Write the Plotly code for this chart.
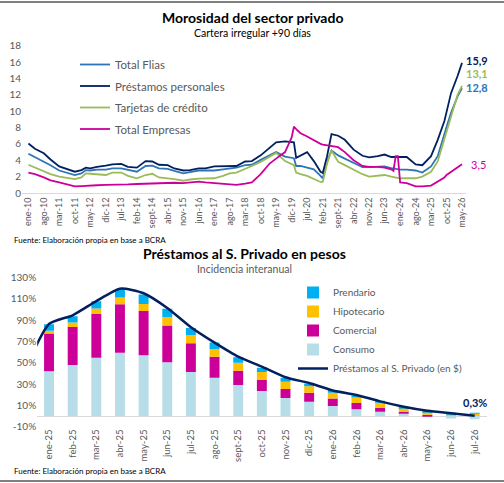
import plotly.graph_objects as go

# ---------- Morosidad del sector privado (cartera irregular +90 dias) ----------
fechas_mora = [
    '2010-01-01', '2010-04-01', '2010-08-01', '2010-11-01', '2011-03-01', '2011-06-01',
    '2011-10-01', '2012-01-01', '2012-03-01', '2012-05-01', '2012-08-01', '2012-12-01',
    '2013-03-01', '2013-07-01', '2013-10-01', '2014-02-01', '2014-06-01', '2014-09-01',
    '2014-12-01', '2015-04-01', '2015-07-01', '2015-11-01', '2016-02-01', '2016-06-01',
    '2016-09-01', '2017-01-01', '2017-05-01', '2017-08-01', '2017-11-01', '2018-03-01',
    '2018-06-01', '2018-10-01', '2019-02-01', '2019-05-01', '2019-09-01', '2019-12-01',
    '2020-01-01', '2020-02-01', '2020-04-01', '2020-07-01', '2020-10-01', '2021-01-01',
    '2021-02-01', '2021-04-01', '2021-06-01', '2021-09-01', '2021-12-01', '2022-04-01',
    '2022-08-01', '2022-11-01', '2023-03-01', '2023-06-01', '2023-09-01', '2023-10-01',
    '2023-11-01', '2023-12-01', '2024-01-01', '2024-04-01', '2024-08-01', '2024-11-01',
    '2025-03-01', '2025-06-01', '2025-09-01', '2025-10-01', '2025-12-01', '2026-03-01',
    '2026-05-01',
]
prestamos_personales = [
    6.05, 5.4, 4.85, 4.1, 3.25, 2.95, 2.6, 2.8, 3.1, 3.0, 3.2, 3.35,
    3.5, 3.55, 3.2, 3.1, 3.9, 3.85, 3.45, 3.4, 3.0, 2.75, 2.8, 3.0,
    3.0, 3.25, 3.3, 3.35, 3.3, 3.85, 3.9, 4.6, 5.5, 6.2, 6.3, 6.2,
    6.2, 4.3, 4.6, 5.0, 3.9, 2.6, 2.45, 4.5, 7.2, 7.0, 6.5, 5.3,
    4.55, 4.35, 4.5, 4.7, 4.4, 4.4, 4.4, 4.4, 4.4, 4.4, 3.5, 3.4,
    4.5, 6.5, 8.8, 10.0, 12.2, 14.3, 15.9,
]
total_flias = [
    4.8, 4.4, 3.85, 3.4, 2.75, 2.5, 2.2, 2.4, 2.8, 2.75, 2.85, 2.85,
    3.0, 3.0, 2.8, 2.6, 3.3, 3.35, 3.0, 2.95, 2.7, 2.4, 2.55, 2.75,
    2.75, 2.75, 2.9, 3.0, 3.1, 3.4, 3.45, 4.05, 4.6, 5.0, 4.45, 4.3,
    4.25, 3.3, 3.3, 3.1, 2.9, 2.1, 1.8, 3.8, 5.2, 4.6, 4.2, 3.65,
    3.15, 3.15, 3.2, 3.25, 3.05, 3.0, 2.95, 2.9, 2.85, 2.85, 2.75, 2.5,
    3.25, 4.5, 7.0, 8.1, 9.8, 11.8, 12.8,
]
tarjetas = [
    3.45, 3.1, 2.6, 2.3, 2.0, 1.9, 1.7, 1.9, 2.4, 2.35, 2.3, 2.2,
    2.5, 2.5, 2.1, 1.8, 2.2, 2.35, 1.9, 1.8, 1.7, 1.5, 1.65, 1.75,
    1.8, 1.8, 2.1, 2.4, 2.5, 2.9, 3.3, 3.8, 4.5, 4.9, 3.9, 3.5,
    3.4, 2.5, 2.3, 2.1, 1.7, 1.35, 1.35, 3.6, 5.2, 3.8, 3.4, 2.85,
    2.3, 2.0, 2.1, 2.2, 2.0, 1.95, 1.9, 1.85, 1.8, 1.8, 1.8, 2.0,
    2.6, 3.85, 6.6, 7.7, 9.6, 12.0, 13.1,
]
total_empresas = [
    2.5, 2.3, 1.9, 1.55, 1.3, 1.05, 0.8, 0.85, 0.9, 0.9, 0.95, 1.0,
    1.0, 1.0, 1.05, 1.1, 1.15, 1.2, 1.25, 1.3, 1.25, 1.2, 1.3, 1.4,
    1.3, 1.2, 1.1, 1.0, 1.0, 1.15, 1.3, 2.3, 3.6, 4.2, 5.0, 6.8,
    8.1, 7.8, 7.3, 6.9, 6.4, 6.0, 5.9, 5.8, 5.7, 5.6, 5.0, 4.0,
    3.3, 3.2, 3.2, 3.1, 2.9, 2.7, 4.5, 4.5, 1.3, 1.2, 0.8, 0.8,
    0.9, 1.35, 1.9, 2.2, 2.6, 3.1, 3.5,
]
ticks_mora = ['ene-10', 'ago-10', 'mar-11', 'oct-11', 'may-12', 'dic-12', 'jul-13', 'feb-14',
              'sept-14', 'abr-15', 'nov-15', 'jun-16', 'ene-17', 'ago-17', 'mar-18', 'oct-18',
              'may-19', 'dic-19', 'jul-20', 'feb-21', 'sept-21', 'abr-22', 'nov-22', 'jun-23',
              'ene-24', 'ago-24', 'mar-25', 'oct-25', 'may-26']
ticks_mora_fechas = ['2010-01-01', '2010-08-01', '2011-03-01', '2011-10-01', '2012-05-01',
                     '2012-12-01', '2013-07-01', '2014-02-01', '2014-09-01', '2015-04-01',
                     '2015-11-01', '2016-06-01', '2017-01-01', '2017-08-01', '2018-03-01',
                     '2018-10-01', '2019-05-01', '2019-12-01', '2020-07-01', '2021-02-01',
                     '2021-09-01', '2022-04-01', '2022-11-01', '2023-06-01', '2024-01-01',
                     '2024-08-01', '2025-03-01', '2025-10-01', '2026-05-01']

# ---------- Prestamos al S. Privado en pesos (incidencia interanual, %) ----------
meses_prest = ['ene-25', 'feb-25', 'mar-25', 'abr-25', 'may-25', 'jun-25', 'jul-25', 'ago-25',
               'sept-25', 'oct-25', 'nov-25', 'dic-25', 'ene-26', 'feb-26', 'mar-26', 'abr-26',
               'may-26', 'jun-26', 'jul-26']
consumo = [42.0, 48.0, 54.9, 59.6, 57.1, 50.6, 41.4, 36.1, 29.1, 23.6, 17.0, 13.5,
           9.5, 6.4, 4.0, 2.3, 0.3, -2.3, -3.0]
comercial = [35.5, 35.7, 41.1, 45.4, 41.7, 34.4, 27.0, 19.7, 13.5, 10.3, 8.5, 8.5,
             6.9, 5.9, 3.9, 1.4, 0.9, 0.0, 0.0]
hipotecario = [2.7, 4.1, 5.0, 6.3, 6.6, 8.0, 7.5, 7.3, 7.4, 7.5, 6.8, 6.0,
               5.6, 5.2, 4.7, 3.8, 2.6, 2.2, 2.3]
prendario = [6.0, 6.0, 6.8, 7.8, 8.8, 7.8, 6.8, 5.9, 5.2, 4.1, 3.8, 2.5,
             2.5, 1.9, 1.2, 0.8, 0.4, 0.3, 0.2]
# serie total: incluye dic-24 como primer punto (queda recortado a la izquierda)
total_prest = [44.0, 86.5, 94.7, 108.0, 119.7, 115.4, 101.6, 83.5, 69.0, 55.8, 46.4, 36.5,
               31.0, 24.0, 19.8, 13.8, 8.8, 5.0, 2.6, 0.3]

FONT = 'Lato'
GRIS = '#595959'
NAVY = '#002060'

fig = go.Figure()

# top chart lines
top_series = [
    ('Total Flias', total_flias, '#2E75B6'),
    ('Préstamos personales', prestamos_personales, NAVY),
    ('Tarjetas de crédito', tarjetas, '#9BBB59'),
    ('Total Empresas', total_empresas, '#CC0099'),
]
for name, vals, color in top_series:
    fig.add_trace(go.Scatter(
        x=fechas_mora, y=vals, mode='lines', name=name,
        line={'color': color, 'width': 1.8},
        xaxis='x', yaxis='y', legend='legend', legendgroup=name,
    ))

# bottom chart bars + line
x_bar = list(range(len(meses_prest)))
x_line = list(range(-1, len(meses_prest)))
bar_series = [
    ('Consumo', consumo, '#B7DEE8', 4),
    ('Comercial', comercial, '#CC0099', 3),
    ('Hipotecario', hipotecario, '#FFC000', 2),
    ('Prendario', prendario, '#00B0F0', 1),
]
for name, vals, color, rank in bar_series:
    fig.add_trace(go.Bar(
        x=x_bar, y=vals, name=name, marker={'color': color, 'line': {'width': 0}},
        xaxis='x2', yaxis='y2', legend='legend2', legendrank=rank,
    ))
fig.add_trace(go.Scatter(
    x=x_line, y=total_prest, mode='lines', name='Préstamos al S. Privado (en $)',
    line={'color': NAVY, 'width': 2.5, 'shape': 'spline', 'smoothing': 0.6},
    xaxis='x2', yaxis='y2', legend='legend2', legendrank=5,
))

# end labels top chart
end_labels = [
    (prestamos_personales, NAVY, 2, True),
    (tarjetas, '#9BBB59', 12, True),
    (total_flias, '#2E75B6', 1, True),
    (total_empresas, '#CC0099', 0, False),
]
annotations = []
for vals, color, ysh, bold in end_labels:
    txt = '{:.1f}'.format(vals[-1]).replace('.', ',')
    annotations.append(dict(
        x=fechas_mora[-1], y=vals[-1], xref='x', yref='y',
        text='<b>' + txt + '</b>' if bold else txt,
        showarrow=False, xanchor='left', xshift=2 if bold else 7, yshift=ysh,
        font={'family': FONT, 'size': 11, 'color': color},
    ))
annotations.append(dict(
    x=x_line[-1], y=total_prest[-1], xref='x2', yref='y2',
    text='<b>' + '{:.1f}'.format(total_prest[-1]).replace('.', ',') + '%</b>',
    showarrow=False, yshift=13, font={'family': FONT, 'size': 11, 'color': NAVY},
))

# titles and sources
texts = [
    ('<b>Morosidad del sector privado</b>', 0.5, 1 - 18 / 483, 14, 'center', '#000000'),
    ('Cartera irregular +90 días', 0.5, 1 - 33 / 483, 10.5, 'center', '#000000'),
    ('Fuente: Elaboración propia en base a BCRA', 12 / 504, 1 - 240 / 483, 8, 'left', '#000000'),
    ('<b>Préstamos al S. Privado en pesos</b>', 0.485, 1 - 254 / 483, 14, 'center', '#000000'),
    ('Incidencia interanual', 0.485, 1 - 269 / 483, 10.5, 'center', GRIS),
    ('Fuente: Elaboración propia en base a BCRA', 12 / 504, 1 - 471 / 483, 8, 'left', '#000000'),
]
for txt, x, y, size, anchor, color in texts:
    annotations.append(dict(
        x=x, y=y, xref='paper', yref='paper', text=txt, showarrow=False,
        xanchor=anchor, yanchor='middle', font={'family': FONT, 'size': size, 'color': color},
    ))

fig.update_layout(
    width=504, height=483,
    margin={'l': 0, 'r': 0, 't': 0, 'b': 0, 'autoexpand': False},
    paper_bgcolor='white', plot_bgcolor='white',
    font={'family': FONT, 'color': GRIS},
    barmode='relative', bargap=0.58,
    showlegend=True,
    xaxis={
        'domain': [22 / 504, 466 / 504], 'anchor': 'y', 'type': 'date',
        'range': ['2009-10-05', '2026-06-25'], 'automargin': False,
        'tickvals': ticks_mora_fechas, 'ticktext': ticks_mora, 'tickangle': -90,
        'tickfont': {'size': 9, 'color': GRIS}, 'showgrid': False,
        'showline': True, 'linecolor': '#D9D9D9', 'ticks': '',
    },
    yaxis={
        'domain': [1 - 193 / 483, 1 - 45.7 / 483], 'anchor': 'x', 'range': [0, 18],
        'automargin': False,
        'dtick': 2, 'tickfont': {'size': 10, 'color': GRIS}, 'showgrid': False,
        'zeroline': False,
    },
    xaxis2={
        'domain': [37.2 / 504, 486.5 / 504], 'anchor': 'y2', 'range': [-0.5, 18.5],
        'automargin': False,
        'tickvals': x_bar, 'ticktext': meses_prest, 'tickangle': -90,
        'tickfont': {'size': 9.5, 'color': GRIS}, 'showgrid': False, 'ticks': '',
    },
    yaxis2={
        'domain': [1 - 426.7 / 483, 1 - 277.7 / 483], 'anchor': 'x2', 'range': [-10, 130],
        'automargin': False,
        'tickvals': [-10, 10, 30, 50, 70, 90, 110, 130],
        'ticktext': ['-10%', '10%', '30%', '50%', '70%', '90%', '110%', '130%'],
        'tickfont': {'size': 10, 'color': GRIS}, 'showgrid': False,
        'zeroline': True, 'zerolinecolor': '#D9D9D9', 'zerolinewidth': 1,
    },
    legend={
        'x': 75 / 504, 'y': 1 - 50 / 483, 'xanchor': 'left', 'yanchor': 'top',
        'bgcolor': 'rgba(0,0,0,0)', 'traceorder': 'grouped', 'tracegroupgap': 2.5,
        'font': {'family': FONT, 'size': 11.5, 'color': GRIS},
    },
    legend2={
        'x': 293 / 504, 'y': 1 - 278 / 483, 'xanchor': 'left', 'yanchor': 'top',
        'bgcolor': 'rgba(0,0,0,0)', 'traceorder': 'normal',
        'font': {'family': FONT, 'size': 10, 'color': GRIS},
    },
    annotations=annotations,
    shapes=[
        dict(type='line', xref='paper', yref='paper', x0=0, x1=1,
             y0=1 - 2 / 483, y1=1 - 2 / 483, line={'color': '#7F7F7F', 'width': 2}),
        dict(type='line', xref='paper', yref='paper', x0=0, x1=1,
             y0=1 - 481 / 483, y1=1 - 481 / 483, line={'color': '#7F7F7F', 'width': 2}),
    ],
)

# the page's default 8px body margin would push the figure off the window
fig.write_html('out.html', config={'displayModeBar': False},
               post_script="document.body.style.margin='0px';")
